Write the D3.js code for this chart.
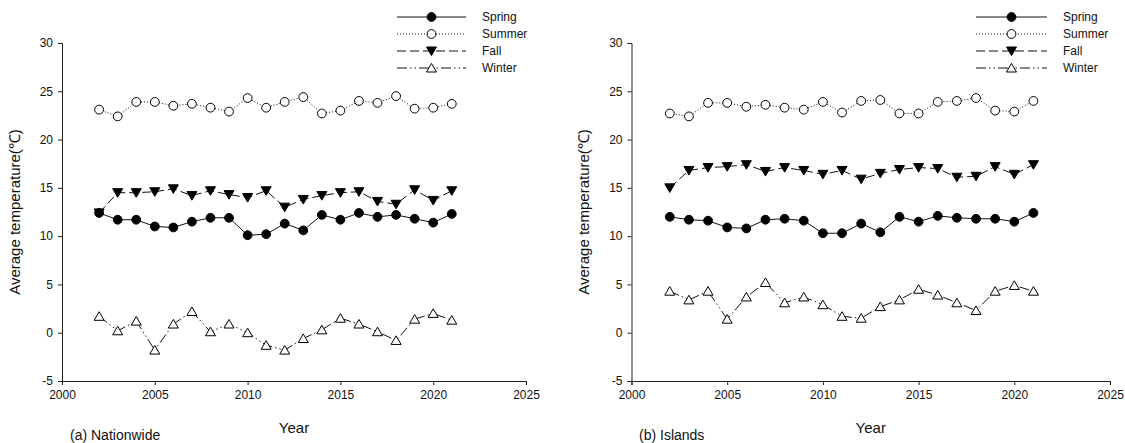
<!DOCTYPE html>
<html>
<head>
<meta charset="utf-8">
<script src="https://cdn.jsdelivr.net/npm/d3@7"></script>
<style>
  html, body { margin: 0; padding: 0; background: #fff; }
  svg { display: block; }
  text { font-family: "Liberation Sans", Arial, sans-serif; fill: #111; }
</style>
</head>
<body>
<svg id="chart" width="1125" height="443"></svg>
<script>
// Seasonal average temperature, 2002–2021
const years = [2002, 2003, 2004, 2005, 2006, 2007, 2008, 2009, 2010, 2011,
               2012, 2013, 2014, 2015, 2016, 2017, 2018, 2019, 2020, 2021];

const seasons = ["Spring", "Summer", "Fall", "Winter"];

// (a) Nationwide
const nationSpring = [12.4, 11.7, 11.7, 11.0, 10.9, 11.5, 11.9, 11.9, 10.1, 10.2,
                      11.3, 10.6, 12.2, 11.7, 12.4, 12.0, 12.2, 11.8, 11.4, 12.3];
const nationSummer = [23.1, 22.4, 23.9, 23.9, 23.5, 23.7, 23.3, 22.9, 24.3, 23.3,
                      23.9, 24.4, 22.7, 23.0, 24.0, 23.8, 24.5, 23.2, 23.3, 23.7];
const nationFall   = [12.4, 14.5, 14.5, 14.6, 14.9, 14.2, 14.7, 14.3, 14.0, 14.7,
                      13.0, 13.8, 14.2, 14.5, 14.6, 13.6, 13.3, 14.8, 13.7, 14.7];
const nationWinter = [1.7, 0.2, 1.2, -1.8, 0.9, 2.2, 0.1, 0.9, 0.0, -1.3,
                      -1.8, -0.6, 0.3, 1.5, 0.9, 0.1, -0.8, 1.4, 2.0, 1.3];

// (b) Islands
const islandSpring = [12.0, 11.7, 11.6, 10.9, 10.8, 11.7, 11.8, 11.6, 10.3, 10.3,
                      11.3, 10.4, 12.0, 11.5, 12.1, 11.9, 11.8, 11.8, 11.5, 12.4];
const islandSummer = [22.7, 22.4, 23.8, 23.8, 23.4, 23.6, 23.3, 23.1, 23.9, 22.8,
                      24.0, 24.1, 22.7, 22.7, 23.9, 24.0, 24.3, 23.0, 22.9, 24.0];
const islandFall   = [15.0, 16.8, 17.1, 17.2, 17.4, 16.7, 17.1, 16.8, 16.4, 16.8,
                      15.9, 16.5, 16.9, 17.1, 17.0, 16.1, 16.2, 17.2, 16.4, 17.4];
const islandWinter = [4.3, 3.4, 4.3, 1.4, 3.7, 5.2, 3.1, 3.7, 2.9, 1.7,
                      1.5, 2.7, 3.4, 4.5, 3.9, 3.1, 2.3, 4.3, 4.9, 4.3];

const xTicks = [2000, 2005, 2010, 2015, 2020, 2025];
const yTicks = [-5, 0, 5, 10, 15, 20, 25, 30];

const yTitle = "Average temperature(℃)";
const xTitle = "Year";

// line dash and marker style per season
const style = {
  Spring: { dash: null,                   marker: "circle",   fill: "#000" },
  Summer: { dash: "1,2",                  marker: "circle",   fill: "#fff" },
  Fall:   { dash: "9,4",                  marker: "triDown",  fill: "#000" },
  Winter: { dash: "10,3,1.5,3,1.5,3",     marker: "triUp",    fill: "#fff" }
};

const svg = d3.select("#chart");

// plain hyphen for negative tick labels
const tickFmt = d => String(d);

function markerPath(kind) {
  if (kind === "circle") return d3.symbol().type(d3.symbolCircle).size(Math.PI * 4.4 * 4.4)();
  if (kind === "triDown") return "M-5,-4L5,-4L0,4.6Z";
  return "M-5,4L5,4L0,-4.6Z";
}

function drawPanel(cfg) {
  const g = svg.append("g");
  const x = d3.scaleLinear().domain([2000, 2025]).range([cfg.x0, cfg.x1]);
  const y = d3.scaleLinear().domain([-5, 30]).range([cfg.yb, cfg.yt]);

  const yAxis = g.append("g")
    .attr("transform", `translate(${cfg.x0},0)`)
    .call(d3.axisLeft(y).tickValues(yTicks).tickSize(4).tickPadding(5).tickFormat(tickFmt));
  const xAxis = g.append("g")
    .attr("transform", `translate(0,${cfg.yb})`)
    .call(d3.axisBottom(x).tickValues(xTicks).tickSize(4).tickPadding(5).tickFormat(tickFmt));
  [yAxis, xAxis].forEach(a => {
    a.select(".domain").attr("stroke", "#222").attr("stroke-width", 1);
    a.selectAll(".tick line").attr("stroke", "#222");
    a.selectAll("text").attr("font-size", 12).attr("fill", "#111")
      .attr("font-family", "'Liberation Sans', Arial, sans-serif");
  });

  const line = d3.line().x((d, i) => x(years[i])).y(d => y(d));
  const series = seasons.map((s, k) => ({ name: s, values: cfg.data[k] }));

  series.forEach(s => {
    g.append("path")
      .attr("d", line(s.values))
      .attr("fill", "none")
      .attr("stroke", "#111")
      .attr("stroke-width", 1)
      .attr("stroke-dasharray", style[s.name].dash);
  });

  const drawOrder = ["Fall", "Winter", "Summer", "Spring"];
  drawOrder.forEach(name => {
    const s = series.find(d => d.name === name);
    g.append("g").selectAll("path")
      .data(s.values)
      .join("path")
      .attr("transform", (d, i) => `translate(${x(years[i])},${y(d)})`)
      .attr("d", markerPath(style[name].marker))
      .attr("fill", style[name].fill)
      .attr("stroke", "#000")
      .attr("stroke-width", 1);
  });

  // axis titles
  g.append("text")
    .attr("transform", `translate(${cfg.titleX},${(cfg.yt + cfg.yb) / 2}) rotate(-90)`)
    .attr("text-anchor", "middle")
    .attr("font-size", 15)
    .text(yTitle);
  g.append("text")
    .attr("x", (cfg.x0 + cfg.x1) / 2)
    .attr("y", 433)
    .attr("text-anchor", "middle")
    .attr("font-size", 15)
    .text(xTitle);
  g.append("text")
    .attr("x", cfg.labelX)
    .attr("y", 440)
    .attr("font-size", 14)
    .text(cfg.label);

  // legend
  const lg = g.append("g");
  seasons.forEach((name, k) => {
    const ly = cfg.legY + k * 17;
    lg.append("line")
      .attr("x1", cfg.legX).attr("x2", cfg.legX + cfg.legW)
      .attr("y1", ly).attr("y2", ly)
      .attr("stroke", "#111").attr("stroke-width", 1)
      .attr("stroke-dasharray", style[name].dash);
    lg.append("path")
      .attr("transform", `translate(${cfg.legX + cfg.legW / 2},${ly})`)
      .attr("d", markerPath(style[name].marker))
      .attr("fill", style[name].fill)
      .attr("stroke", "#000");
    lg.append("text")
      .attr("x", cfg.legX + cfg.legW + 16)
      .attr("y", ly + 4)
      .attr("font-size", 12)
      .text(name);
  });
}

drawPanel({
  x0: 62, x1: 526, yt: 43, yb: 381, titleX: 20,
  label: "(a) Nationwide", labelX: 70,
  legX: 397, legW: 69, legY: 17,
  data: [nationSpring, nationSummer, nationFall, nationWinter]
});

drawPanel({
  x0: 631.5, x1: 1110, yt: 43, yb: 381, titleX: 589,
  label: "(b) Islands", labelX: 639,
  legX: 976, legW: 71, legY: 17,
  data: [islandSpring, islandSummer, islandFall, islandWinter]
});
</script>
</body>
</html>
